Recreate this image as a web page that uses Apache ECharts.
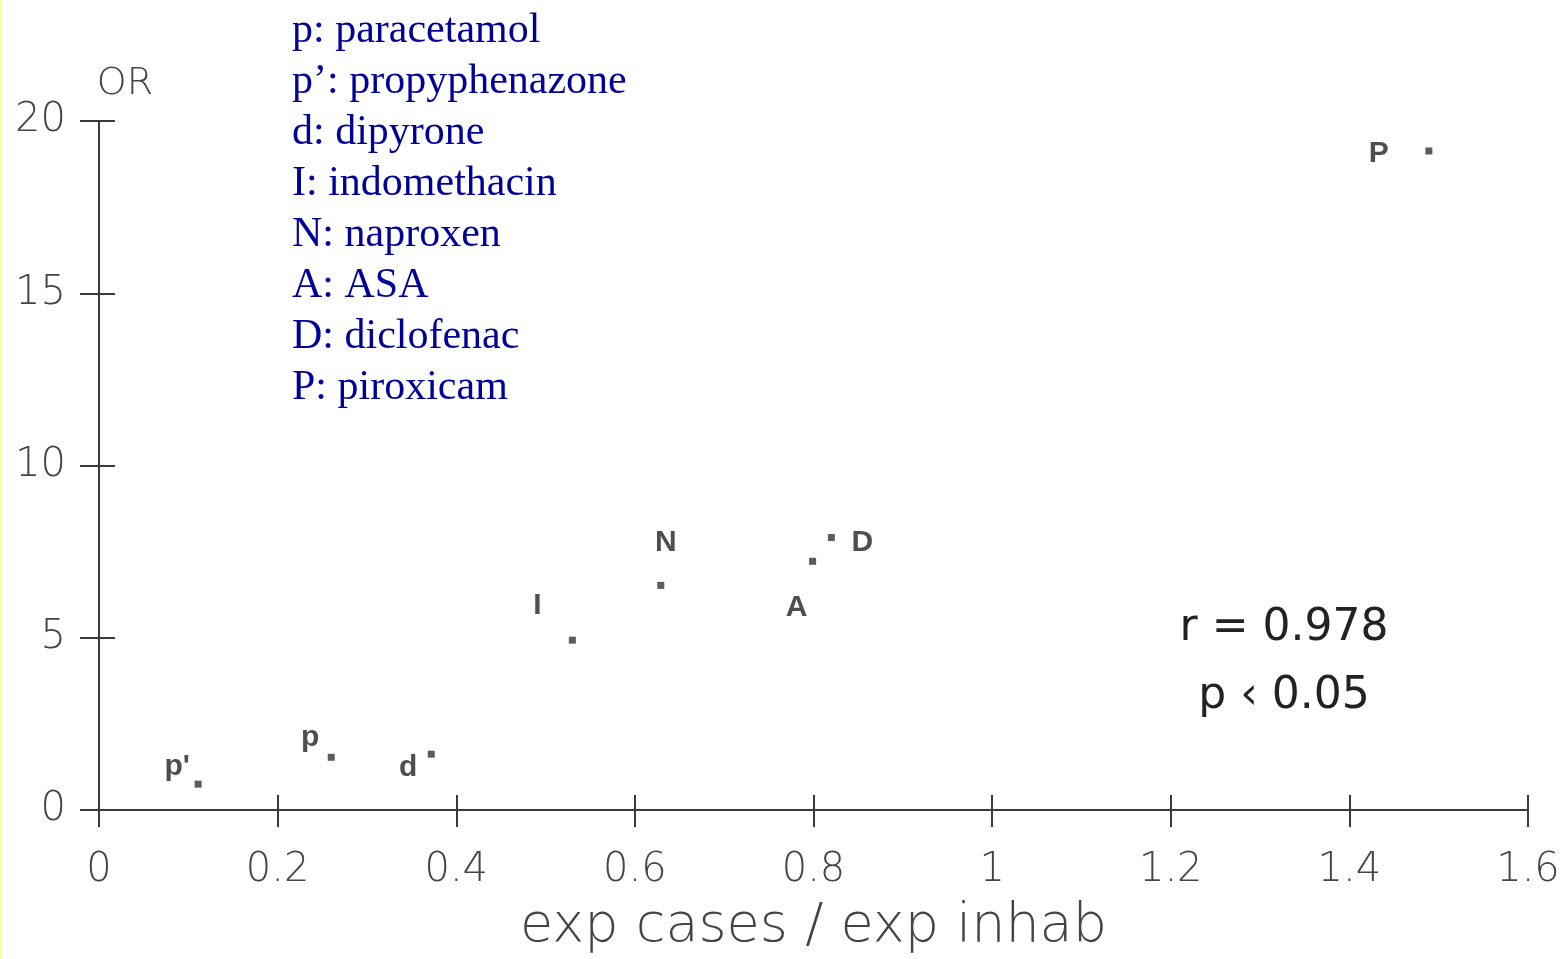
<!DOCTYPE html>
<html>
<head>
<meta charset="utf-8">
<script src="https://cdn.jsdelivr.net/npm/echarts@6/dist/echarts.min.js"></script>
<style>
  html, body { margin: 0; padding: 0; background: #fff; }
  #chart { position: absolute; left: 0; top: 0; width: 1564px; height: 959px; }
  #edge { position: absolute; left: 0; top: 0; width: 2px; height: 959px; background: #ffff8a; }
</style>
</head>
<body>
<div id="chart"></div>
<div id="edge"></div>
<script>
// 药物代码、x值(exp cases / exp inhab)、y值(OR)
const codes = ["p'", 'p', 'd', 'I', 'N', 'A', 'D', 'P'];
const ratio = [0.111, 0.260, 0.372, 0.530, 0.629, 0.799, 0.820, 1.489];
const oddsRatio = [0.75, 1.53, 1.62, 4.93, 6.52, 7.22, 7.91, 19.13];

// 图例文字
const legendLines = [
  'p: paracetamol',
  'p\u2019: propyphenazone',
  'd: dipyrone',
  'I: indomethacin',
  'N: naproxen',
  'A: ASA',
  'D: diclofenac',
  'P: piroxicam'
];

const xTicks = { min: 0, max: 1.6, step: 0.2 };
const yTicks = { min: 0, max: 20, step: 5 };
const statLines = ['r = 0.978', 'p \u2039 0.05'];

// 每个标签相对于点的偏移（只是样式）
const labelOffsets = [[-21, -17], [-21, -20], [-23, 14], [-35, -34], [5, -43], [-16, 46], [31, 5], [-50, 3]];

const lineColor = '#3a3a3a';
const tickFont = { fontSize: 40, fontFamily: 'DejaVu Sans', fontWeight: 200, color: '#444' };

const chart = echarts.init(document.getElementById('chart'));

const baseX = {
  type: 'value', gridIndex: 0, position: 'bottom',
  min: xTicks.min, max: xTicks.max, interval: xTicks.step,
  splitLine: { show: false }
};
const baseY = {
  type: 'value', gridIndex: 0, position: 'left',
  min: yTicks.min, max: yTicks.max, interval: yTicks.step,
  splitLine: { show: false }
};

const option = {
  animation: false,
  grid: { left: 99, right: 36, top: 121, bottom: 145 },
  xAxis: [
    Object.assign({}, baseX, {
      name: 'exp cases / exp inhab',
      nameLocation: 'middle',
      nameGap: 90,
      nameTextStyle: { fontSize: 54, fontFamily: 'DejaVu Sans', fontWeight: 200, color: '#444' },
      axisLine: { lineStyle: { color: lineColor, width: 2 } },
      axisTick: { inside: false, length: 17, lineStyle: { color: lineColor, width: 2 } },
      axisLabel: Object.assign({ margin: 41 }, tickFont)
    }),
    // 向内的刻度，让刻度线穿过轴线
    Object.assign({}, baseX, {
      axisLine: { show: false },
      axisTick: { inside: true, length: 15, lineStyle: { color: lineColor, width: 2 } },
      axisLabel: { show: false }
    })
  ],
  yAxis: [
    Object.assign({}, baseY, {
      name: 'OR',
      nameLocation: 'end',
      nameGap: 18,
      nameTextStyle: { fontSize: 38, fontFamily: 'DejaVu Sans', fontWeight: 200, color: '#444', padding: [0, 0, 0, 52] },
      axisLine: { lineStyle: { color: lineColor, width: 2 } },
      axisTick: { inside: false, length: 19, lineStyle: { color: lineColor, width: 2 } },
      axisLabel: Object.assign({ margin: 33, padding: [6, 0, 0, 0] }, tickFont)
    }),
    Object.assign({}, baseY, {
      axisLine: { show: false },
      axisTick: { inside: true, length: 16, lineStyle: { color: lineColor, width: 2 } },
      axisLabel: { show: false }
    })
  ],
  series: [{
    type: 'scatter',
    xAxisIndex: 0,
    yAxisIndex: 0,
    symbol: 'rect',
    symbolSize: 7,
    itemStyle: { color: '#333' },
    data: codes.map((c, i) => ({
      name: c,
      value: [ratio[i], oddsRatio[i]],
      label: {
        show: true,
        position: 'inside',
        offset: labelOffsets[i],
        formatter: c,
        fontSize: 30,
        fontWeight: 'bold',
        fontFamily: 'Liberation Sans',
        color: '#222'
      }
    }))
  }],
  graphic: [
    {
      type: 'text',
      left: 292,
      top: 5,
      style: {
        text: legendLines.join('\n'),
        fontSize: 42,
        lineHeight: 51,
        fontFamily: 'Liberation Serif',
        fill: '#000099'
      }
    },
    {
      type: 'text',
      x: 1284,
      y: 629,
      style: {
        text: statLines[0],
        fontSize: 44,
        fontFamily: 'DejaVu Sans',
        fill: '#222',
        align: 'center', verticalAlign: 'middle',
        textAlign: 'center', textVerticalAlign: 'middle'
      }
    },
    {
      type: 'text',
      x: 1284,
      y: 697,
      style: {
        text: statLines[1],
        fontSize: 44,
        fontFamily: 'DejaVu Sans',
        fill: '#222',
        align: 'center', verticalAlign: 'middle',
        textAlign: 'center', textVerticalAlign: 'middle'
      }
    }
  ]
};

chart.setOption(option);
</script>
</body>
</html>
